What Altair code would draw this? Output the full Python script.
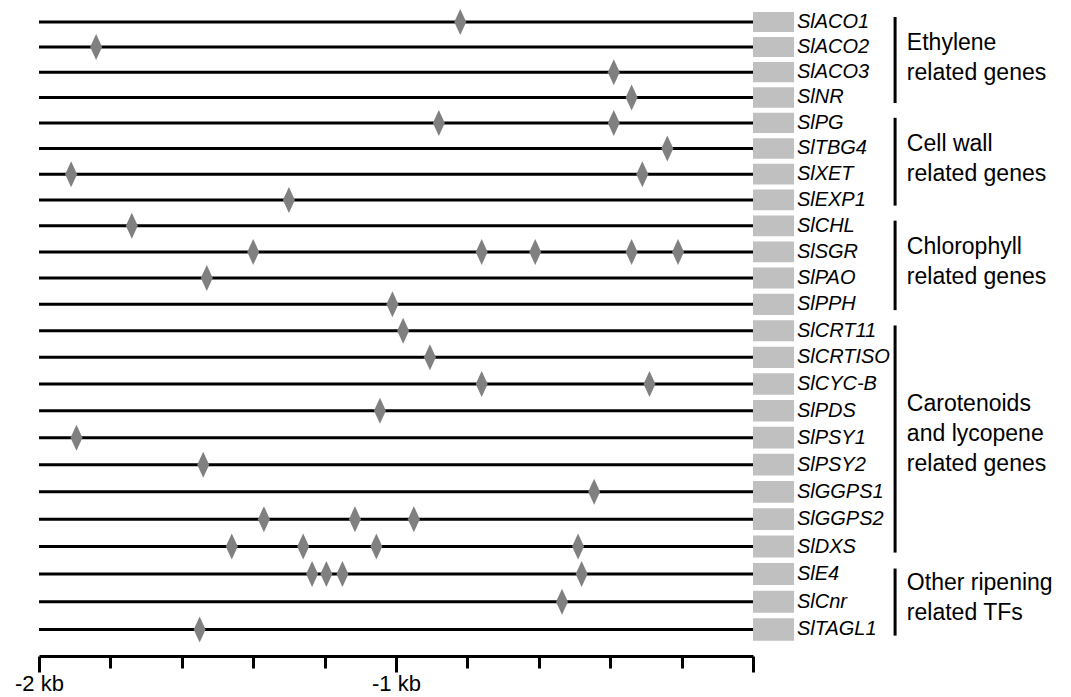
import altair as alt
import pandas as pd

# ---------------- data ----------------
GENES = [
    "SlACO1", "SlACO2", "SlACO3", "SlNR", "SlPG", "SlTBG4", "SlXET", "SlEXP1",
    "SlCHL", "SlSGR", "SlPAO", "SlPPH", "SlCRT11", "SlCRTISO", "SlCYC-B", "SlPDS",
    "SlPSY1", "SlPSY2", "SlGGPS1", "SlGGPS2", "SlDXS", "SlE4", "SlCnr", "SlTAGL1",
]

# element positions (kb upstream of the start site), one list per gene
SITES_KB = [
    [-0.82],
    [-1.84],
    [-0.39],
    [-0.34],
    [-0.88, -0.39],
    [-0.24],
    [-1.91, -0.31],
    [-1.30],
    [-1.74],
    [-1.40, -0.76, -0.61, -0.34, -0.21],
    [-1.53],
    [-1.01],
    [-0.98],
    [-0.905],
    [-0.76, -0.29],
    [-1.045],
    [-1.895],
    [-1.54],
    [-0.445],
    [-1.37, -1.115, -0.95],
    [-1.46, -1.26, -1.055, -0.49],
    [-1.235, -1.195, -1.15, -0.48],
    [-0.535],
    [-1.55],
]

PROMOTER_START_KB = -2.0
PROMOTER_END_KB = 0.0

GROUP_LABELS = [
    "Ethylene\nrelated genes",
    "Cell wall\nrelated genes",
    "Chlorophyll\nrelated genes",
    "Carotenoids\nand lycopene\nrelated genes",
    "Other ripening\nrelated TFs",
]
GROUP_FIRST = [0, 4, 8, 12, 21]
GROUP_LAST = [3, 7, 11, 20, 23]

X_TICKS = [-2.0, -1.8, -1.6, -1.4, -1.2, -1.0, -0.8, -0.6, -0.4, -0.2, 0.0]
X_TICK_LABELS = {-2.0: "-2 kb", -1.0: "-1 kb"}

# ---------------- tables ----------------
genes_df = pd.DataFrame({
    "gene": GENES,
    "idx": list(range(len(GENES))),
    "start": PROMOTER_START_KB,
    "end": PROMOTER_END_KB,
})
sites_df = pd.DataFrame(
    [{"gene": g, "idx": i, "pos": p}
     for i, (g, ps) in enumerate(zip(GENES, SITES_KB)) for p in ps]
)
groups_df = pd.DataFrame({
    "label": GROUP_LABELS,
    "first": GROUP_FIRST,
    "last": GROUP_LAST,
    "nlines": [s.count("\n") + 1 for s in GROUP_LABELS],
})

# ---------------- styling ----------------
FONT = "Liberation Sans"
ROW_OFF = 201.5  # row index offset used with the pow row scale
BOX_X0, BOX_X1 = 0.0, 0.115
GENE_LABEL_X = 0.123
BRACKET_X = 0.398
GROUP_LABEL_X = 0.431
LINE_SHIFT = 0.57  # half line height expressed in rows

xs = alt.Scale(domain=[-2, 0], nice=False, zero=False)
ys = alt.Scale(type="pow", exponent=2, domain=[200.94, 225.45],
               reverse=True, nice=False, zero=False)

label_expr = " : ".join(
    f"abs(datum.value - ({v})) < 1e-6 ? '{t}'" for v, t in X_TICK_LABELS.items()
) + " : ''"

x_axis = alt.Axis(
    values=X_TICKS, labelExpr=label_expr, title=None, grid=False,
    domainColor="black", domainWidth=3, tickColor="black", tickWidth=3,
    tickSize={"condition": {"test": "abs(datum.value - round(datum.value)) < 1e-6",
                            "value": 16}, "value": 12},
    labelFont=FONT, labelFontSize=22, labelColor="black", labelPadding=1,
    labelOverlap=False, labelFlush=False,
)

row = f"datum.idx + {ROW_OFF}"

lines = alt.Chart(genes_df).transform_calculate(row=row).mark_rule(
    color="black", strokeWidth=3
).encode(
    x=alt.X("start:Q", scale=xs, axis=x_axis),
    x2="end:Q",
    y=alt.Y("row:Q", scale=ys, axis=None),
)

boxes = alt.Chart(genes_df).transform_calculate(
    r0=f"datum.idx - 0.4 + {ROW_OFF}", r1=f"datum.idx + 0.4 + {ROW_OFF}",
    bx0=str(BOX_X0), bx1=str(BOX_X1),
).mark_rect(color="#c0c0c0").encode(
    x=alt.X("bx0:Q"), x2="bx1:Q",
    y=alt.Y("r0:Q"), y2="r1:Q",
)

diamonds = alt.Chart(sites_df).transform_calculate(row=row).mark_point(
    shape="M0,-1L0.46,0L0,1L-0.46,0Z", size=676, filled=True,
    color="#808080", opacity=1, strokeWidth=0,
).encode(
    x=alt.X("pos:Q"),
    y=alt.Y("row:Q"),
)

gene_labels = alt.Chart(genes_df).transform_calculate(
    row=row, lx=str(GENE_LABEL_X)
).mark_text(
    align="left", baseline="middle", font=FONT, fontSize=20,
    fontStyle="italic", color="black",
).encode(
    x=alt.X("lx:Q"),
    y=alt.Y("row:Q"),
    text="gene:N",
)

brackets = alt.Chart(groups_df).transform_calculate(
    r0=f"datum.first - 0.2 + {ROW_OFF}", r1=f"datum.last + 0.22 + {ROW_OFF}",
    bx=str(BRACKET_X),
).mark_rule(color="black", strokeWidth=3).encode(
    x=alt.X("bx:Q"),
    y=alt.Y("r0:Q"), y2="r1:Q",
)

group_labels = alt.Chart(groups_df).transform_calculate(
    mid=f"(datum.first + datum.last) / 2 - 0.1 - (datum.nlines - 1) * {LINE_SHIFT} + {ROW_OFF}",
    tx=str(GROUP_LABEL_X),
).mark_text(
    align="left", baseline="middle", lineBreak="\n", lineHeight=30,
    font=FONT, fontSize=23, color="black",
).encode(
    x=alt.X("tx:Q"),
    y=alt.Y("mid:Q"),
    text="label:N",
)

chart = alt.layer(
    lines, boxes, diamonds, gene_labels, brackets, group_labels
).properties(
    width=714, height=648,
    autosize=alt.AutoSizeParams(type="none"),
    padding={"left": 31, "top": 0, "right": 310, "bottom": 41},
).configure_view(stroke=None)

chart.save("out.html", embed_options={"renderer": "svg", "actions": False})
